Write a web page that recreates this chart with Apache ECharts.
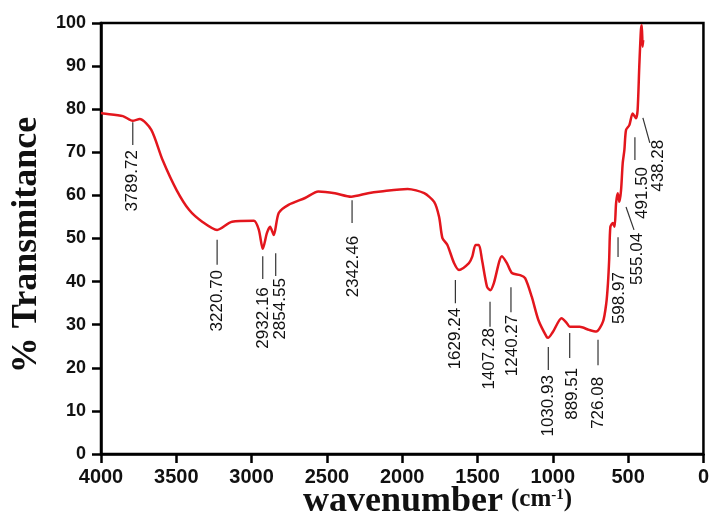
<!DOCTYPE html>
<html><head><meta charset="utf-8">
<script src="https://cdn.jsdelivr.net/npm/echarts@6.0.0/dist/echarts.min.js"></script>
<style>html,body{margin:0;padding:0;background:#fff}#c{width:712px;height:519px}</style>
</head><body><div id="c"></div>
<script>
// Spectrum (wavenumber cm-1, % transmittance)
const wavenumber = [4000,3985,3855,3790,3743,3666,3591,3499,3414,3328,3229,3130,2985,2952,2926,2898,2877,2853,2820,2755,2645,2557,2447,2339,2227,2142,1964,1854,1788,1755,1733,1700,1656,1623,1557,1535,1513,1491,1470,1437,1415,1392,1338,1305,1272,1217,1184,1140,1096,1041,1030,1000,942,910,887,822,760,712,667,645,634,626,618,601,590,580,569,558,547,536,525,514,492,470,448,437,426,415,409,404,400];
const transmittance = [79.1,79.0,78.4,77.3,77.7,75.2,68.2,61.3,56.6,53.9,52.0,53.9,54.1,52.0,47.6,51.3,52.7,50.8,55.9,57.8,59.4,60.9,60.5,59.7,60.5,60.9,61.5,60.5,58.5,55.0,50.1,48.5,44.3,42.7,44.3,45.8,48.5,48.5,45.0,38.8,38.0,39.6,45.9,44.3,42.0,41.5,40.8,36.5,31.1,27.2,27.0,28.3,31.5,30.5,29.5,29.5,28.8,28.4,30.7,35.0,39.6,45.0,52.7,53.6,52.7,58.2,60.5,58.5,61.2,67.5,70.5,75.2,76.3,79.0,77.9,79.8,89.9,98.4,99.5,94.5,96.0];

// Peak annotations
const peakLabels = ['3789.72','3220.70','2932.16','2854.55','2342.46','1629.24','1407.28','1240.27','1030.93','889.51','726.08','598.97','555.04','491.50','438.28'];
const leaderTopX = [3789,3229,2926,2840,2333,1647,1417,1278,1030,888,700,567,514,455,402];
const leaderTopY = [77.0,49.7,45.9,46.6,58.9,40.4,35.3,38.7,24.8,28.1,26.5,50.3,57.3,73.5,78.0];
const leaderBotX = [3789,3229,2926,2840,2333,1647,1417,1278,1030,888,700,567,461,455,356];
const leaderBotY = [71.7,43.9,40.6,41.3,53.6,35.0,29.5,32.9,19.5,22.3,20.6,45.7,52.0,68.2,72.2];
const labelX = [3789,3229,2919,2807,2327,1647,1425,1272,1030,872,700,560,440,405,300];
const labelY = [70.5,42.7,38.7,40.8,50.6,33.9,29.2,32.3,18.3,20.0,17.9,42.2,51.3,66.6,72.9];

const xTickInterval = 500, yTickInterval = 10;

const chart = echarts.init(document.getElementById('c'), null, {renderer:'canvas'});
const axisCol = '#000';
chart.setOption({
  animation:false,
  backgroundColor:'#fff',
  grid:{left:101,right:4,top:23,bottom:65,show:true,borderColor:axisCol,borderWidth:2.5,backgroundColor:'transparent'},
  xAxis:{type:'value',inverse:true,min:0,max:4000,interval:xTickInterval,
    axisLine:{show:true,onZero:false,lineStyle:{color:axisCol,width:2.5}},
    axisTick:{show:true,inside:false,length:9,lineStyle:{color:axisCol,width:2.5}},
    axisLabel:{show:true,margin:13,color:'#111',fontFamily:'Liberation Sans, Arial',fontWeight:'bold',fontSize:20,showMinLabel:true,showMaxLabel:true,formatter:v=>String(v)},
    splitLine:{show:false}},
  yAxis:{type:'value',min:0,max:100,interval:yTickInterval,
    axisLine:{show:true,onZero:false,lineStyle:{color:axisCol,width:2.5}},
    axisTick:{show:true,inside:false,length:9,lineStyle:{color:axisCol,width:2.5}},
    axisLabel:{show:true,margin:15,color:'#111',fontFamily:'Liberation Sans, Arial',fontWeight:'bold',fontSize:18,formatter:v=>String(v)},
    splitLine:{show:false}},
  graphic:[
    {type:'text',x:27,y:245,rotation:Math.PI/2,style:{text:'% Transmitance',font:'bold 36px "Liberation Serif"',fill:'#111',align:'center',verticalAlign:'middle'}},
    {type:'text',x:403,y:502,style:{text:'wavenumber',font:'bold 36px "Liberation Serif"',fill:'#111',align:'center',verticalAlign:'middle'}},
    {type:'text',x:511,y:500,style:{text:'{b|(cm}{s|-1}{b|)}',align:'left',verticalAlign:'middle',
      rich:{b:{font:'bold 25px "Liberation Serif"',fill:'#111',verticalAlign:'bottom'},
            s:{font:'bold 15px "Liberation Serif"',fill:'#111',verticalAlign:'top'}}}}
  ],
  series:[
    {type:'line',data:wavenumber.map((w,i)=>[w,transmittance[i]]),showSymbol:false,smooth:0.25,
      lineStyle:{color:'#e3161d',width:2.5},itemStyle:{color:'#e3161d'},z:3},
    {type:'custom',data:peakLabels.map((l,i)=>[labelX[i],labelY[i],i]),z:4,
      renderItem:function(params,api){
        const i = api.value(2);
        const p1 = api.coord([leaderTopX[i],leaderTopY[i]]);
        const p2 = api.coord([leaderBotX[i],leaderBotY[i]]);
        const pt = api.coord([labelX[i],labelY[i]]);
        return {type:'group',children:[
          {type:'line',shape:{x1:p1[0],y1:p1[1],x2:p2[0],y2:p2[1]},style:{stroke:'#333',lineWidth:1.2}},
          {type:'text',x:pt[0],y:pt[1],rotation:Math.PI/2,style:{text:peakLabels[i],font:'17px "Liberation Sans", Arial',fill:'#111',align:'right',verticalAlign:'middle'}}
        ]};
      }}
  ]
});
</script></body></html>
